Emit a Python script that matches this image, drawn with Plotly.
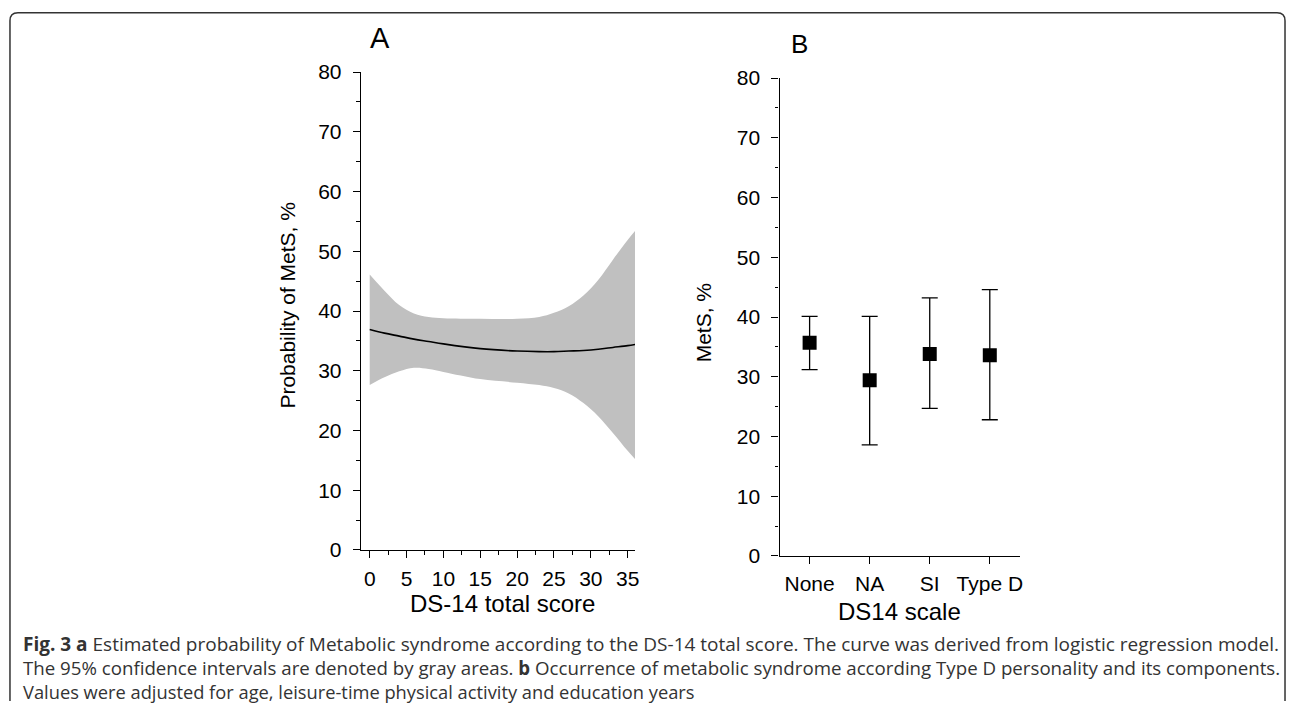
import plotly.graph_objects as go

W, H = 1292, 712

# Panel A: estimated probability of MetS vs DS-14 total score
score = [0, 2, 4, 6, 8, 10, 15, 20, 23, 25, 27, 29, 31, 33, 35, 36]
prob = [36.9, 36.3, 35.8, 35.3, 34.9, 34.5, 33.7, 33.3, 33.2, 33.2, 33.3, 33.4, 33.6, 33.9, 34.2, 34.4]
prob_upper = [46.1, 43.4, 41.0, 39.6, 39.0, 38.8, 38.7, 38.7, 39.0, 39.7, 40.8, 42.6, 45.2, 48.6, 51.9, 53.4]
prob_lower = [27.6, 28.9, 29.9, 30.5, 30.3, 29.8, 28.6, 28.0, 27.6, 27.1, 26.2, 24.6, 22.4, 19.6, 16.6, 15.2]

# Panel B: MetS occurrence by DS14 scale group
groups = ["None", "NA", "SI", "Type D"]
mets = [35.7, 29.4, 33.8, 33.6]
mets_upper = [40.1, 40.1, 43.2, 44.6]
mets_lower = [31.2, 18.6, 24.7, 22.8]

caption = [
    "<b>Fig. 3 a</b> Estimated probability of Metabolic syndrome according to the DS-14 total score. "
    "The curve was derived from logistic regression model.",
    "The 95% confidence intervals are denoted by gray areas. <b>b</b> Occurrence of metabolic syndrome "
    "according Type D personality and its components.",
    "Values were adjusted for age, leisure-time physical activity and education years",
]
caption_sizes = [19, 18.7, 18.3]

# the page ends up drawn a little squeezed vertically (about 12px white above and below),
# so vertical pixel targets are mapped back through that
Y_OFF, Y_SCALE = 12, 0.966


def px_x(v):
    return v / W


def px_y(v):
    return 1 - ((v - Y_OFF) / Y_SCALE) / H


FONT = "Liberation Sans, Arial, sans-serif"

fig = go.Figure()

fig.add_trace(go.Scatter(x=score, y=prob_upper, mode="lines", line=dict(width=0, shape="spline"),
                         hoverinfo="skip", showlegend=False, xaxis="x", yaxis="y"))
fig.add_trace(go.Scatter(x=score, y=prob_lower, mode="lines", line=dict(width=0, shape="spline"),
                         fill="tonexty", fillcolor="#c0c0c0", hoverinfo="skip",
                         showlegend=False, xaxis="x", yaxis="y"))
fig.add_trace(go.Scatter(x=score, y=prob, mode="lines", line=dict(color="black", width=1.6, shape="spline"),
                         showlegend=False, xaxis="x", yaxis="y"))

fig.add_trace(go.Scatter(
    x=groups, y=mets, mode="markers",
    marker=dict(symbol="square", size=14, color="black"),
    error_y=dict(type="data", symmetric=False,
                 array=[u - m for u, m in zip(mets_upper, mets)],
                 arrayminus=[m - l for m, l in zip(mets, mets_lower)],
                 color="black", thickness=1.3, width=8),
    showlegend=False, xaxis="x2", yaxis="y2"))

axis_common = dict(showgrid=False, zeroline=False, showline=True, linecolor="black", linewidth=1.3,
                   ticks="outside", ticklen=7, tickwidth=1.3, tickcolor="black",
                   tickfont=dict(family=FONT, size=21, color="black"))
minor_y = dict(dtick=5, ticks="outside", ticklen=3.5, tickcolor="black")

fig.update_layout(
    width=W, height=H,
    margin=dict(l=0, r=0, t=0, b=0),
    paper_bgcolor="white", plot_bgcolor="white",
    xaxis=dict(domain=[px_x(362), px_x(637)], range=[-1.2, 36], dtick=5, tick0=0,
               minor=dict(dtick=2.5, ticks="outside", ticklen=3.5, tickcolor="black"),
               anchor="y", ticklabelstandoff=3, **axis_common),
    yaxis=dict(domain=[px_y(549), px_y(72)], range=[0, 80], dtick=10, minor=minor_y,
               anchor="x", ticklabelstandoff=7, **axis_common),
    xaxis2=dict(domain=[px_x(782), px_x(1023)], range=[-0.5, 3.5], type="category",
                anchor="y2", ticklabelstandoff=2, **axis_common),
    yaxis2=dict(domain=[px_y(555), px_y(78)], range=[0, 80], dtick=10, minor=minor_y,
                anchor="x2", ticklabelstandoff=7, **axis_common),
)

ann = []
# panel letters
ann.append(dict(text="A", x=px_x(381), y=px_y(38), font=dict(size=29)))
ann.append(dict(text="B", x=px_x(802), y=px_y(44), font=dict(size=26)))
# axis titles
ann.append(dict(text="Probability of MetS, %", x=px_x(288), y=px_y(305), textangle=-90, font=dict(size=21)))
ann.append(dict(text="DS-14 total score", x=px_x(504), y=px_y(602), font=dict(size=24)))
ann.append(dict(text="MetS, %", x=px_x(706), y=px_y(322), textangle=-90, font=dict(size=21)))
ann.append(dict(text="DS14 scale", x=px_x(902), y=px_y(610), font=dict(size=24)))
for a in ann:
    a.update(xref="paper", yref="paper", showarrow=False, xanchor="center", yanchor="middle")
    a["font"].update(family=FONT, color="black")

for i, (line, size) in enumerate(zip(caption, caption_sizes)):
    ann.append(dict(text=line, x=px_x(21), y=px_y(643 + 23.5 * i), xref="paper", yref="paper",
                    showarrow=False, xanchor="left", yanchor="middle",
                    font=dict(family="Open Sans, Noto Sans, sans-serif", size=size, color="#333333")))

fig.update_layout(annotations=ann)

# rounded frame around the figure
r = 8
L, T, R, B = 10, 12.8, 1289, 712
x_l, x_r = px_x(L), px_x(R)
y_t, y_b = min(px_y(T), 0.999), 0.0
ry = r / Y_SCALE / H
frame = (f"M {x_l},{y_b} L {x_l},{y_t - ry} Q {x_l},{y_t} {px_x(L + r)},{y_t} "
         f"L {px_x(R - r)},{y_t} Q {x_r},{y_t} {x_r},{y_t - ry} L {x_r},{y_b}")
fig.add_shape(type="path", path=frame, xref="paper", yref="paper", line=dict(color="#333333", width=1.5))

fig.write_html("out.html", config={"displayModeBar": False},
               post_script="document.body.style.margin='0';")
